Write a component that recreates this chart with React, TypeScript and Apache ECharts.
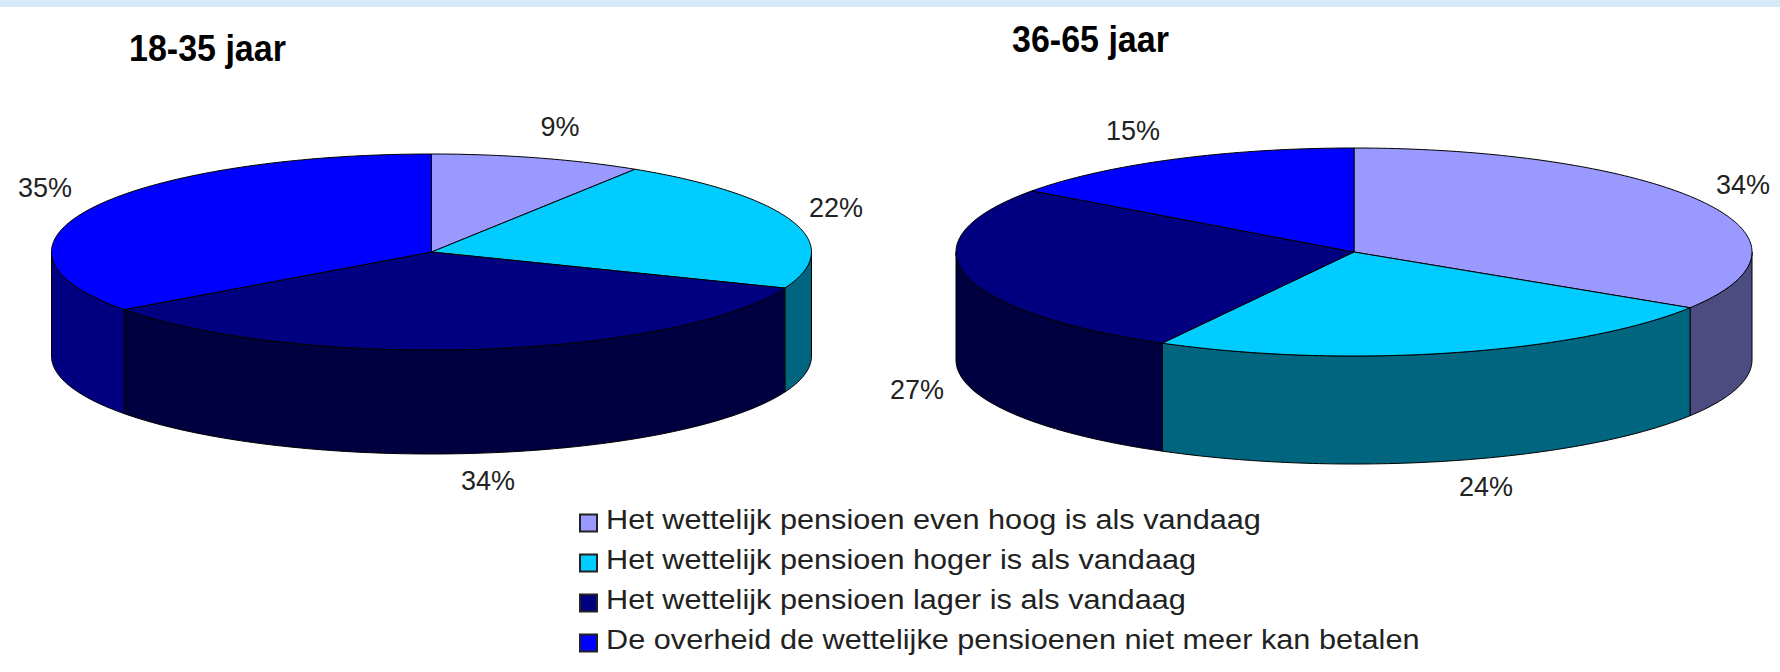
import React, { useEffect, useRef } from "react";
import * as echarts from "echarts";

const pieNames = ["18-35 jaar", "36-65 jaar"];
const categories = [
  "Het wettelijk pensioen even hoog is als vandaag",
  "Het wettelijk pensioen hoger is als vandaag",
  "Het wettelijk pensioen lager is als vandaag",
  "De overheid de wettelijke pensioenen niet meer kan betalen",
];
const evenHoog = [9, 34];
const hoger = [22, 24];
const lager = [34, 27];
const nietBetalen = [35, 15];
const seriesValues = [evenHoog, hoger, lager, nietBetalen];

const topColors = ["#9999FF", "#00CCFF", "#000080", "#0000FF"];
const sideColors = ["#4C4C80", "#006680", "#000040", "#000080"];

const PIES = [
  { cx: 431.5, cy: 252, rx: 380, ry: 98, depth: 104 },
  { cx: 1354, cy: 252, rx: 398, ry: 104, depth: 108 },
];
const TITLES = [
  { x: 129, y: 48 },
  { x: 1012, y: 39 },
];
// label centres per category, per pie
const LABELS = [
  [[560, 127], [1743, 185]],
  [[836, 208], [1486, 487]],
  [[488, 481], [917, 390]],
  [[45, 188], [1133, 131]],
];
const LEGEND = { x: 580, textX: 606, boxY: 523, textY: 520, gap: 40, box: 17, fontSize: 27, scaleX: 1.137 };

function rim(p: any, frac: number, dy = 0): number[] {
  const a = frac * Math.PI * 2;
  return [p.cx + p.rx * Math.sin(a), p.cy - p.ry * Math.cos(a) + dy];
}
function arcPts(p: any, f0: number, f1: number, dy = 0): number[][] {
  const n = Math.max(2, Math.ceil((f1 - f0) * 360));
  const out: number[][] = [];
  for (let i = 0; i <= n; i++) out.push(rim(p, f0 + ((f1 - f0) * i) / n, dy));
  return out;
}

function startFraction(catIdx: number, pieIdx: number): number {
  let s = 0;
  for (let c = 0; c < catIdx; c++) s += seriesValues[c][pieIdx];
  const total = seriesValues.reduce((t, v) => t + v[pieIdx], 0);
  return s / total;
}

function makeSeries(catIdx: number) {
  return {
    type: "custom",
    name: categories[catIdx],
    coordinateSystem: "none",
    silent: true,
    data: seriesValues[catIdx].map((v, i) => [i, v]),
    renderItem: (_: any, api: any) => {
      const pieIdx = api.value(0);
      const value = api.value(1);
      const p = PIES[pieIdx];
      const total = seriesValues.reduce((t, v) => t + v[pieIdx], 0);
      const f0 = startFraction(catIdx, pieIdx);
      const f1 = f0 + value / total;
      const children: any[] = [];
      const w0 = Math.max(f0, 0.25);
      const w1 = Math.min(f1, 0.75);
      if (w1 > w0) {
        const pts = [...arcPts(p, w0, w1), ...arcPts(p, w0, w1, p.depth).reverse()];
        children.push({
          type: "polygon",
          shape: { points: pts },
          style: { fill: sideColors[catIdx], stroke: "#000", lineWidth: 1 },
        });
      }
      children.push({
        type: "polygon",
        shape: { points: [[p.cx, p.cy], ...arcPts(p, f0, f1)] },
        style: { fill: topColors[catIdx], stroke: "#000", lineWidth: 1 },
      });
      const [lx, ly] = LABELS[catIdx][pieIdx];
      children.push({
        type: "text",
        x: lx,
        y: ly,
        style: {
          text: `${value}%`,
          fill: "#222",
          font: "27px 'Liberation Sans', Arial, sans-serif",
          align: "center",
          verticalAlign: "middle",
        },
      });
      return { type: "group", children };
    },
  };
}

const graphics: any[] = [
  { type: "rect", shape: { x: 0, y: 0, width: 1780, height: 7 }, style: { fill: "#D6E9F8" } },
  ...pieNames.map((t, i) => ({
    type: "text",
    x: TITLES[i].x,
    y: TITLES[i].y,
    scaleY: 1.1,
    style: {
      text: t,
      fill: "#000",
      font: "bold 34px 'Liberation Sans', Arial, sans-serif",
      align: "left",
      verticalAlign: "middle",
    },
  })),
  ...categories.flatMap((c, i) => [
    {
      type: "rect",
      shape: {
        x: LEGEND.x,
        y: LEGEND.boxY + i * LEGEND.gap - LEGEND.box / 2,
        width: LEGEND.box,
        height: LEGEND.box,
      },
      style: { fill: topColors[i], stroke: "#222", lineWidth: 2 },
    },
    {
      type: "text",
      x: LEGEND.textX,
      y: LEGEND.textY + i * LEGEND.gap,
      scaleX: LEGEND.scaleX,
      style: {
        text: c,
        fill: "#222",
        font: `${LEGEND.fontSize}px 'Liberation Sans', Arial, sans-serif`,
        align: "left",
        verticalAlign: "middle",
      },
    },
  ]),
];

export default function App() {
  const ref = useRef<HTMLDivElement>(null);
  useEffect(() => {
    const chart = echarts.init(ref.current!, undefined, { renderer: "svg" });
    chart.setOption({
      animation: false,
      backgroundColor: "#fff",
      series: categories.map((_, i) => makeSeries(i)),
      graphic: graphics,
    });
    return () => chart.dispose();
  }, []);
  return (
    <div
      ref={ref}
      style={{ position: "fixed", left: 0, top: 0, width: 1780, height: 672 }}
    />
  );
}
